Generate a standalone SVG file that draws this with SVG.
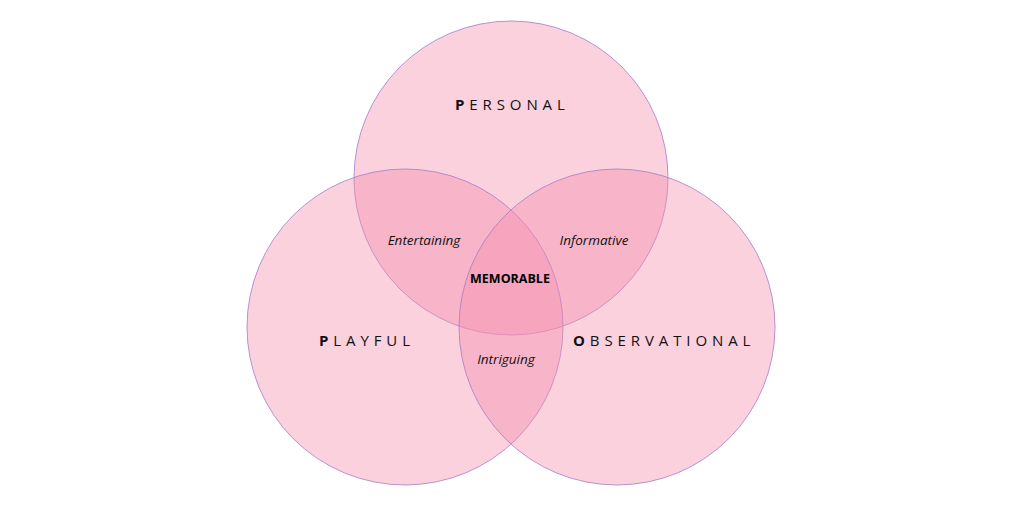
<svg xmlns="http://www.w3.org/2000/svg" width="1024" height="512" viewBox="0 0 1024 512">
<style>
.c{fill:rgb(246,140,172);fill-opacity:0.4;stroke:#a77cc4;stroke-width:1;stroke-opacity:0.8}
.h{font-family:"Open Sans","Liberation Sans",sans-serif;font-size:15px;letter-spacing:4.9px;fill:#111}
.h tspan.b{font-weight:bold}
.i{font-family:"Open Sans","Liberation Sans",sans-serif;font-size:13.5px;font-style:italic;fill:#111;text-anchor:middle}
.m{font-family:"Open Sans","Liberation Sans",sans-serif;font-size:12.5px;font-weight:bold;fill:#000;text-anchor:middle}
</style>
<rect width="1024" height="512" fill="#ffffff"/>
<g id="personal"><circle class="c" cx="511" cy="178" r="157"/></g>
<g id="playful"><circle class="c" cx="405" cy="327" r="158"/></g>
<g id="observational"><circle class="c" cx="617" cy="327" r="158"/></g>
<g id="labels">
<text class="h" x="455" y="110"><tspan class="b">P</tspan>ERSONAL</text>
<text class="h" x="319" y="346"><tspan class="b">P</tspan>LAYFUL</text>
<text class="h" x="573" y="346"><tspan class="b">O</tspan>BSERVATIONAL</text>
<text class="i" x="424" y="245">Entertaining</text>
<text class="i" x="594" y="245">Informative</text>
<text class="m" x="510" y="283">MEMORABLE</text>
<text class="i" x="506" y="364">Intriguing</text>
</g>
</svg>
